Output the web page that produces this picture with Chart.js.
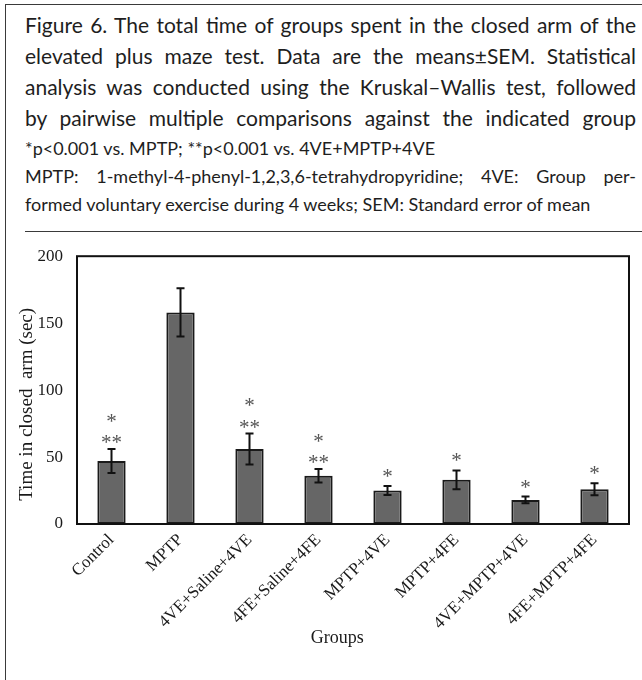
<!DOCTYPE html>
<html>
<head>
<meta charset="utf-8">
<title>Figure 6</title>
<script src="https://cdn.jsdelivr.net/npm/chart.js@4.4.0/dist/chart.umd.min.js"></script>
<style>
  body { margin: 0; background: #fff; }
  #page { position: relative; width: 642px; height: 680px; overflow: hidden; background: #fff; }
  .frame { position: absolute; left: 5px; top: 4px; width: 700px; height: 720px;
           border-left: 1.5px solid #3a3a3a; border-top: 1.5px solid #3a3a3a; }
  .cap { position: absolute; left: 25px; width: 611px; font-family: Lato, sans-serif; color: #1e1e1e;
         line-height: 1; text-align: justify; text-align-last: justify; white-space: nowrap; }
  .big { font-size: 21px; }
  .small { font-size: 18px; }
  .left { text-align-last: left; }
  .rule { position: absolute; left: 25px; width: 620px; top: 231px; height: 0; border-top: 1.5px solid #3a3a3a; }
  #chart { position: absolute; left: 0; top: 232px; }
</style>
</head>
<body>
<div id="page">
  <div class="frame"></div>
  <div class="cap big" style="top:14px">Figure 6. The total time of groups spent in the closed arm of the</div>
  <div class="cap big" style="top:45px">elevated plus maze test. Data are the means±SEM. Statistical</div>
  <div class="cap big" style="top:76px">analysis was conducted using the Kruskal–Wallis test, followed</div>
  <div class="cap big" style="top:107px">by pairwise multiple comparisons against the indicated group</div>
  <div class="cap small left" style="top:139px">*p&lt;0.001 vs. MPTP; **p&lt;0.001 vs. 4VE+MPTP+4VE</div>
  <div class="cap small" style="top:167px">MPTP: 1-methyl-4-phenyl-1,2,3,6-tetrahydropyridine; 4VE: Group per-</div>
  <div class="cap small left" style="top:195px">formed voluntary exercise during 4 weeks; SEM: Standard error of mean</div>
  <div class="rule"></div>
  <canvas id="chart" width="642" height="448"></canvas>
</div>
<script>
// groups and values
var groups = ["Control", "MPTP", "4VE+Saline+4VE", "4FE+Saline+4FE", "MPTP+4VE", "MPTP+4FE", "4VE+MPTP+4VE", "4FE+MPTP+4FE"];
var means = [47, 158, 56, 36, 25, 33, 18, 26];
var sems = [9, 18, 11.5, 5, 3.3, 7, 2.5, 4.5];
// significance marks, listed from the bar upwards
var marks = [["**", "*"], [], ["**", "*"], ["**", "*"], ["*"], ["*"], ["*"], ["*"]];
var yTicks = [0, 50, 100, 150, 200];

Chart.defaults.font.family = "'Liberation Serif', 'Times New Roman', serif";
Chart.defaults.color = "#1a1a1a";

// box round the plot area
var framePlugin = {
  id: "frame",
  afterDraw: function (chart) {
    var a = chart.chartArea, ctx = chart.ctx;
    ctx.save();
    ctx.strokeStyle = "#111";
    ctx.lineWidth = 2;
    ctx.strokeRect(a.left, a.top, a.right - a.left, a.bottom - a.top);
    ctx.restore();
  }
};

// error bars and asterisks
var errorPlugin = {
  id: "errors",
  afterDatasetsDraw: function (chart) {
    var ctx = chart.ctx, y = chart.scales.y;
    var meta = chart.getDatasetMeta(0);
    ctx.save();
    meta.data.forEach(function (bar, i) {
      var top = y.getPixelForValue(means[i] + sems[i]);
      var bot = y.getPixelForValue(means[i] - sems[i]);
      ctx.strokeStyle = "#111";
      ctx.lineWidth = 2;
      ctx.beginPath();
      ctx.moveTo(bar.x, top); ctx.lineTo(bar.x, bot);
      ctx.moveTo(bar.x - 4, top); ctx.lineTo(bar.x + 4, top);
      ctx.moveTo(bar.x - 4, bot); ctx.lineTo(bar.x + 4, bot);
      ctx.stroke();

      ctx.fillStyle = "#555";
      ctx.font = "21px 'Liberation Serif'";
      ctx.textAlign = "center";
      ctx.textBaseline = "alphabetic";
      var base = marks[i].length > 1 ? 0 : 3;
      marks[i].forEach(function (m, k) {
        ctx.fillText(m, bar.x, top - base - k * 21.5);
      });
    });
    ctx.restore();
  }
};

new Chart(document.getElementById("chart"), {
  type: "bar",
  data: {
    labels: groups,
    datasets: [{
      data: means,
      backgroundColor: "#666666",
      borderColor: "#1a1a1a",
      borderWidth: 2,
      borderSkipped: false,
      barPercentage: 0.41,
      categoryPercentage: 1
    }]
  },
  options: {
    responsive: false,
    animation: false,
    layout: { padding: { left: 6, top: 23, right: 13, bottom: 0 } },
    plugins: { legend: { display: false }, tooltip: { enabled: false } },
    scales: {
      y: {
        min: 0, max: 200,
        afterBuildTicks: function (s) { s.ticks = yTicks.map(function (v) { return { value: v }; }); },
        afterFit: function (s) { s.width = 71; },
        grid: { display: false, drawTicks: false },
        border: { display: false },
        ticks: { padding: 14, font: { size: 17 }, color: "#1a1a1a" },
        // trailing spaces nudge the title down, as in the original
        title: { display: true, text: "Time in closed  arm (sec)      ", font: { size: 19 }, padding: { top: 10, bottom: 0 }, color: "#1a1a1a" }
      },
      x: {
        afterFit: function (s) { s.height = 156; },
        grid: { display: false, drawTicks: false },
        border: { display: false },
        ticks: { minRotation: 45, maxRotation: 45, padding: 6, font: { size: 17 }, color: "#1a1a1a", autoSkip: false },
        title: { display: true, text: "Groups       ", font: { size: 18 }, padding: { top: 0, bottom: 31 }, color: "#1a1a1a" }
      }
    }
  },
  plugins: [framePlugin, errorPlugin]
});
</script>
</body>
</html>
